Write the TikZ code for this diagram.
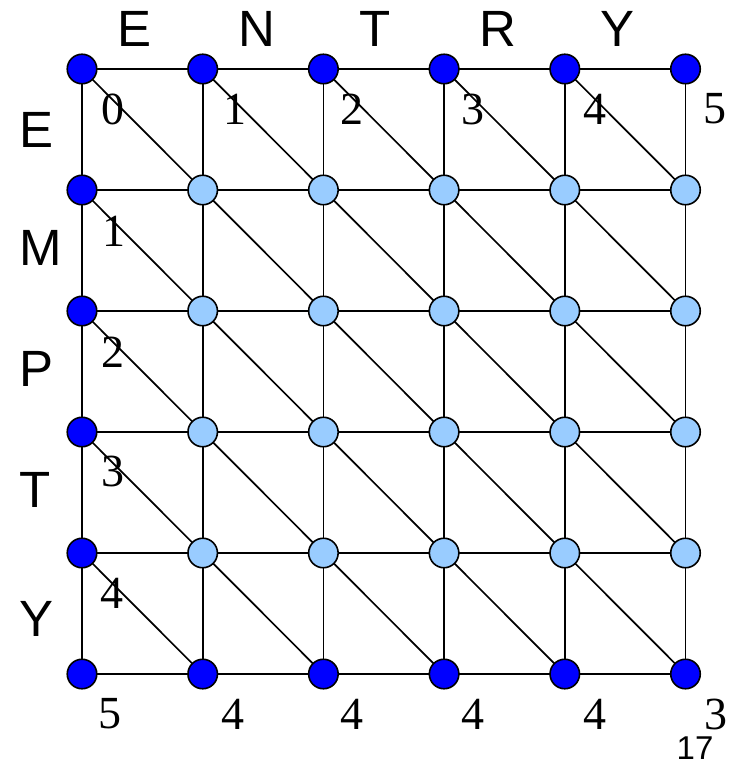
\documentclass[tikz,border=0pt]{standalone}
\usepackage{fontspec}
\setmainfont{Liberation Serif}
\newfontfamily\lettersf{Liberation Sans}
\definecolor{darkdot}{RGB}{0,0,255}
\definecolor{lightdot}{RGB}{153,204,255}
\tikzset{
  dot/.style={circle, draw=black, line width=1.6pt, minimum size=29.5pt, inner sep=0pt},
  edge/.style={draw=black, line width=1.7pt},
  letter/.style={inner sep=0pt, font=\lettersf\fontsize{51pt}{51pt}\selectfont},
  num/.style={inner sep=0pt, font=\fontsize{46pt}{46pt}\selectfont},
  pagenum/.style={inner sep=0pt, font=\lettersf\fontsize{33pt}{33pt}\selectfont}
}
\begin{document}
\begin{tikzpicture}[x=1pt,y=-1pt]
\useasboundingbox (0,0) rectangle (738,767);
% node positions
\foreach \i in {0,...,5}{
  \foreach \j in {0,...,5}{
    \coordinate (c-\i-\j) at ({82+120.7*\i},{69+121*\j});
  }
}
% edges
\foreach \i in {0,...,5}{
  \foreach \j [count=\k from 1] in {0,...,4}{
    \draw[edge] (c-\i-\j) -- (c-\i-\k);
    \draw[edge] (c-\j-\i) -- (c-\k-\i);
  }
}
\foreach \i [count=\ii from 1] in {0,...,4}{
  \foreach \j [count=\jj from 1] in {0,...,4}{
    \draw[edge] (c-\i-\j) -- (c-\ii-\jj);
  }
}
% nodes
\foreach \i in {0,...,5}{
  \foreach \j in {0,...,5}{
    \pgfmathsetmacro{\isborder}{(\i==0 || \j==0 || \j==5) ? 1 : 0}
    \ifdim\isborder pt>0.5pt
      \node[dot, fill=darkdot] (n-\i-\j) at (c-\i-\j) {};
    \else
      \node[dot, fill=lightdot] (n-\i-\j) at (c-\i-\j) {};
    \fi
  }
}
% top letters
\node[letter] (tE) at (135,29) {E};
\node[letter] (tN) at (257,29) {N};
\node[letter] (tT) at (375,29) {T};
\node[letter] (tR) at (498,29) {R};
\node[letter] (tY) at (617,29) {Y};
% left letters
\node[letter] (lE) at (37,130) {E};
\node[letter] (lM) at (41,248) {M};
\node[letter] (lP) at (37,369) {P};
\node[letter] (lT) at (35,490) {T};
\node[letter] (lY) at (37,619) {Y};
% top numbers
\node[num] (t0) at (113,109) {0};
\node[num] (t1) at (235,109) {1};
\node[num] (t2) at (352,109) {2};
\node[num] (t3) at (473,109) {3};
\node[num] (t4) at (595,109) {4};
\node[num] (t5) at (715,109) {5};
% left numbers
\node[num] (l1) at (114,231) {1};
\node[num] (l2) at (113,352) {2};
\node[num] (l3) at (113,471) {3};
\node[num] (l4) at (112,593) {4};
% bottom numbers
\node[num] (b0) at (110,714) {5};
\node[num] (b1) at (233,714) {4};
\node[num] (b2) at (352,714) {4};
\node[num] (b3) at (473,714) {4};
\node[num] (b4) at (595,714) {4};
\node[num] (b5) at (716,714) {3};
% page number
\node[pagenum] (pg) at (695,748) {17};
\end{tikzpicture}
\end{document}
